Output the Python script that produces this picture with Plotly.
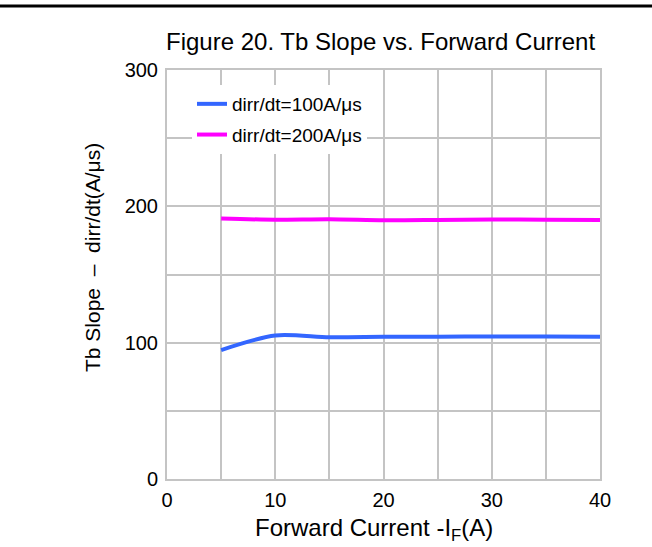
import plotly.graph_objects as go

# ---- data ----
forward_current = [5, 10, 15, 20, 25, 30, 35, 40]
slope_100 = [94.6, 105.3, 104.0, 104.3, 104.4, 104.5, 104.5, 104.4]
slope_200 = [191.0, 190.2, 190.6, 189.8, 190.0, 190.3, 190.2, 190.0]
series_names = ["dirr/dt=100A/μs", "dirr/dt=200A/μs"]
series_colors = ["#3366FF", "#FF00FF"]

x_ticks = [0, 10, 20, 30, 40]
y_ticks = [0, 100, 200, 300]

FONT = "Liberation Sans, Arial, Helvetica, sans-serif"
GRID = "#c4c4c4"

W, H = 652, 547
ML, MR, MT, MB = 167, 52, 70, 68
PW, PH = W - ML - MR, H - MT - MB

def px_x(p):
    return (p - ML) / PW

def px_y(p):
    return (H - MB - p) / PH

fig = go.Figure()
for i, (name, ys) in enumerate(zip(series_names, [slope_100, slope_200])):
    fig.add_trace(go.Scatter(
        x=forward_current, y=ys, mode="lines", name=name,
        line=dict(color=series_colors[i], width=4, shape="spline", smoothing=0.8),
        legendgroup=f"g{i}",
    ))

axis_common = dict(
    showgrid=True, gridcolor=GRID, gridwidth=2,
    showline=True, linecolor=GRID, linewidth=2, mirror=True,
    zeroline=False, ticks="outside", tickcolor="rgba(0,0,0,0)",
    tickfont=dict(family=FONT, size=20, color="#000000"),
)

fig.update_layout(
    width=W, height=H,
    margin=dict(l=ML, r=MR, t=MT, b=MB, pad=0),
    paper_bgcolor="white", plot_bgcolor="white",
    font=dict(family=FONT, color="#000000"),
    showlegend=True,
    legend=dict(
        x=px_x(192), y=px_y(85), xanchor="left", yanchor="top",
        bgcolor="white", borderwidth=0,
        font=dict(family=FONT, size=19, color="#000000"),
        tracegroupgap=3, traceorder="grouped",
    ),
    xaxis=dict(
        range=[0, 40], tickvals=x_ticks, ticklen=2,
        minor=dict(dtick=5, tick0=0, showgrid=True, gridcolor=GRID, gridwidth=2),
        **axis_common,
    ),
    yaxis=dict(
        range=[0, 300], tickvals=y_ticks, ticklen=3,
        minor=dict(dtick=50, tick0=0, showgrid=True, gridcolor=GRID, gridwidth=2),
        **axis_common,
    ),
    annotations=[
        dict(text="Figure 20. Tb Slope vs. Forward Current", xref="paper", yref="paper",
             x=px_x(380), y=px_y(42), xanchor="center", yanchor="middle",
             showarrow=False, font=dict(family=FONT, size=24, color="#000000")),
        dict(text="Forward Current -I<sub>F</sub>(A)", xref="paper", yref="paper",
             x=px_x(374), y=px_y(529), xanchor="center", yanchor="middle",
             showarrow=False, font=dict(family=FONT, size=24, color="#000000")),
        dict(text="Tb Slope\u00a0\u00a0–\u00a0\u00a0dirr/dt(A/μs)", xref="paper", yref="paper",
             x=px_x(92), y=px_y(258), xanchor="center", yanchor="middle", textangle=-90,
             showarrow=False, font=dict(family=FONT, size=21, color="#000000")),
    ],
    shapes=[
        dict(type="line", xref="paper", yref="paper",
             x0=px_x(0), x1=px_x(W), y0=px_y(6), y1=px_y(6),
             line=dict(color="#000000", width=3)),
    ],
)

fig.write_html("out.html", post_script="document.body.style.margin='0';",
               config={"displayModeBar": False})
